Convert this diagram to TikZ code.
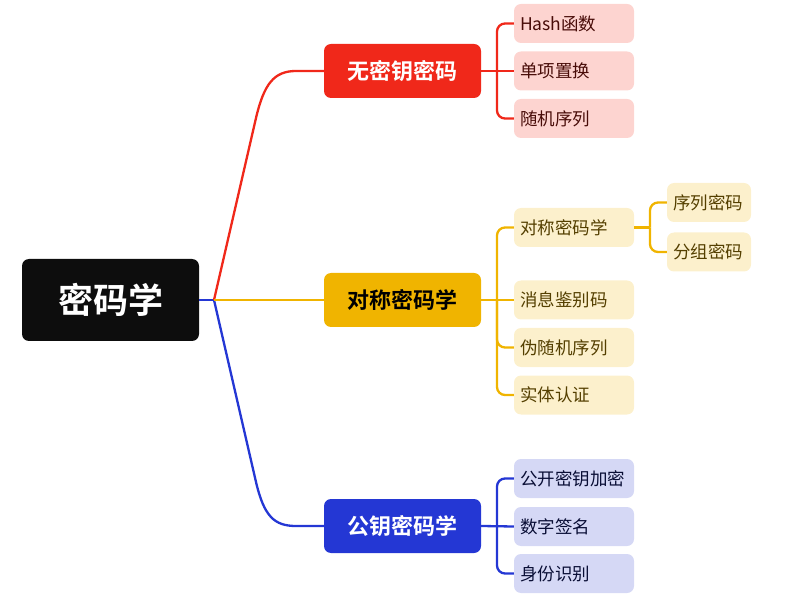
\documentclass[tikz,border=0pt]{standalone}
\usepackage{fontspec}
\newfontfamily\cjk{Noto Sans CJK SC}[BoldFont={Noto Sans CJK SC Bold}]
\definecolor{rootblk}{HTML}{0D0D0D}
\definecolor{redmain}{HTML}{F0281A}
\definecolor{redleaf}{HTML}{FDD4D0}
\definecolor{yelmain}{HTML}{F0B400}
\definecolor{yelleaf}{HTML}{FCF0CC}
\definecolor{blumain}{HTML}{2437D4}
\definecolor{bluleaf}{HTML}{D5D8F5}
\tikzset{
  topic/.style={rounded corners=7pt, minimum width=157pt, minimum height=54pt, text=white, font=\cjk\bfseries\fontsize{22}{26}\selectfont},
  leaf/.style={rounded corners=7pt, minimum width=120pt, minimum height=39pt, text width=108pt, align=left, font=\cjk\fontsize{17.5}{20}\selectfont},
  subleaf/.style={leaf, minimum width=84pt, text width=72pt},
  branch/.style={line width=2.3pt, rounded corners=8pt}
}
\begin{document}
\begin{tikzpicture}[x=1pt, y=-1pt]
  \useasboundingbox (0,0) rectangle (808,601);
  % root and main topics
  \node[topic, fill=rootblk, minimum width=177pt, minimum height=82pt, font=\cjk\bfseries\fontsize{35}{40}\selectfont] (root) at (110.5,300) {密码学};
  \node[topic, fill=redmain] (nokey) at (402.5,71) {无密钥密码};
  \node[topic, fill=yelmain, text=black] (symm) at (402.5,300) {对称密码学};
  \node[topic, fill=blumain] (pub) at (402.5,526) {公钥密码学};
  \coordinate (fork) at (214,300);
  \draw[blumain, line width=2.3pt] (root.east) -- (fork);
  \draw[redmain, line width=2.3pt] (fork) -- (256,118) .. controls (264,84) and (274,71) .. (296,71) -- (nokey.west);
  \draw[blumain, line width=2.3pt] (fork) -- (256,482) .. controls (264,516) and (274,526) .. (296,526) -- (pub.west);
  \draw[yelmain, line width=2.3pt] (fork) -- (symm.west);
  % no-key leaves
  \node[leaf, fill=redleaf, text=redmain!30!black] (hash) at (574,23.5) {Hash函数};
  \node[leaf, fill=redleaf, text=redmain!30!black] (perm) at (574,71) {单项置换};
  \node[leaf, fill=redleaf, text=redmain!30!black] (rseq) at (574,118.5) {随机序列};
  \draw[branch, redmain] (nokey.east) -- (perm.west);
  \foreach \n in {hash,rseq} \draw[branch, redmain] (497,71) |- (\n.west);
  % symmetric leaves
  \node[leaf, fill=yelleaf, text=yelmain!35!black] (scrypt) at (574,227.5) {对称密码学};
  \node[leaf, fill=yelleaf, text=yelmain!35!black] (mac) at (574,300) {消息鉴别码};
  \node[leaf, fill=yelleaf, text=yelmain!35!black] (prng) at (574,347.5) {伪随机序列};
  \node[leaf, fill=yelleaf, text=yelmain!35!black] (auth) at (574,395) {实体认证};
  \node[subleaf, fill=yelleaf, text=yelmain!35!black] (stream) at (709,202.5) {序列密码};
  \node[subleaf, fill=yelleaf, text=yelmain!35!black] (block) at (709,252) {分组密码};
  \draw[branch, yelmain] (symm.east) -- (mac.west);
  \foreach \n in {scrypt,prng,auth} \draw[branch, yelmain] (497,300) |- (\n.west);
  \draw[branch, yelmain] (scrypt.east) -- (650,227.5);
  \foreach \n in {stream,block} \draw[branch, yelmain] (650,227.5) |- (\n.west);
  % public-key leaves
  \node[leaf, fill=bluleaf, text=blumain!25!black] (pke) at (574,478.5) {公开密钥加密};
  \node[leaf, fill=bluleaf, text=blumain!25!black] (sign) at (574,526.5) {数字签名};
  \node[leaf, fill=bluleaf, text=blumain!25!black] (ident) at (574,573.5) {身份识别};
  \draw[branch, blumain] (pub.east) -- (sign.west);
  \foreach \n in {pke,ident} \draw[branch, blumain] (497,526) |- (\n.west);
\end{tikzpicture}
\end{document}
